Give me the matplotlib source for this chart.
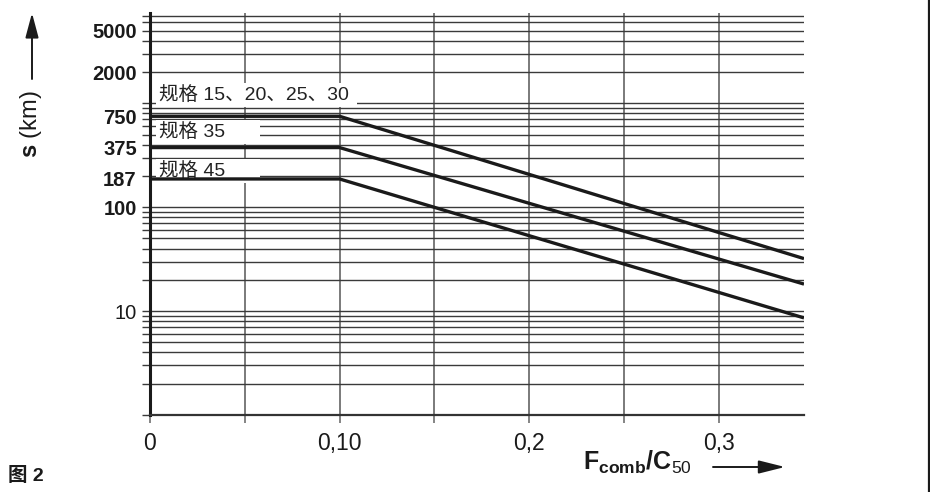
import matplotlib
matplotlib.use('Agg')
import matplotlib.pyplot as plt
from matplotlib.ticker import LogLocator, FixedLocator, NullFormatter
from matplotlib.lines import Line2D

plt.rcParams['font.family'] = ['Liberation Sans', 'Noto Sans CJK SC', 'DejaVu Sans']
plt.rcParams['mathtext.fontset'] = 'custom'
plt.rcParams['mathtext.rm'] = 'Liberation Sans'
plt.rcParams['mathtext.bf'] = 'Liberation Sans:bold'

### DATA ###
load_ratio = [0.0, 0.10, 0.345]
series_names = ['规格 15、20、25、30 ', '规格 35      ', '规格 45      ']
size_15_30 = [750, 750, 32]
size_35 = [375, 375, 18.2]
size_45 = [187, 187, 8.6]
label_y = [1200, 533, 224]

ytick_vals = [10, 100, 187, 375, 750, 2000, 5000]
ytick_text = ['10', '100', '187', '375', '750', '2000', '5000']
xtick_vals = [0, 0.10, 0.2, 0.3]
xtick_text = ['0', '0,10', '0,2', '0,3']
xminor_vals = [0.05, 0.15, 0.25]

### PLOT ###
W, H = 930, 492
fig = plt.figure(figsize=(W / 100, H / 100), dpi=100)
ax = fig.add_axes([150 / W, 1 - 415 / H, (804 - 150) / W, (415 - 13.3) / H])

ax.set_yscale('log')
ax.set_xlim(0, 0.345)
ax.set_ylim(1, 7350)

# grid
ax.yaxis.set_minor_locator(LogLocator(base=10, subs=range(1, 10)))
ax.yaxis.set_minor_formatter(NullFormatter())
ax.yaxis.remove_overlapping_locs = False
ax.set_yticks(ytick_vals)
ylabels = ax.set_yticklabels(ytick_text)
for t in ylabels:
    t.set_fontweight('normal' if t.get_text() == '10' else 'bold')
    t.set_fontsize(14.5)

ax.set_xticks(xtick_vals)
ax.set_xticklabels(xtick_text, fontsize=16.5)
ax.xaxis.set_minor_locator(FixedLocator(xminor_vals))
ax.xaxis.remove_overlapping_locs = False

ax.grid(False)
ax.yaxis.grid(True, which='minor', color='#3a3a3a', lw=1.0)
ax.xaxis.grid(True, which='both', color='#707070', lw=1.3)

ax.tick_params(axis='y', which='minor', length=6, width=1.0, color='#3a3a3a')
ax.tick_params(axis='y', which='major', length=0, pad=9.5, colors='#1a1a1a')
ax.tick_params(axis='x', which='both', length=6, width=1.2, color='#707070', pad=6, labelcolor='#1a1a1a')

for s in ['top', 'right']:
    ax.spines[s].set_visible(False)
ax.spines['left'].set_linewidth(2.2)
ax.spines['left'].set_color('#1a1a1a')
ax.spines['bottom'].set_linewidth(1.6)
ax.spines['bottom'].set_color('#333333')

# curves
for vals in [size_15_30, size_35, size_45]:
    ax.plot(load_ratio, vals, color='#1a1a1a', lw=2.4, solid_capstyle='butt', zorder=4)

for name, yv in zip(series_names, label_y):
    ax.text(0.0047, yv, name, ha='left', va='center', fontsize=14, color='#222222',
            bbox=dict(boxstyle='square,pad=0.15', fc='white', ec='none'), zorder=3)

# axis captions with arrows
fig.text(31 / W, 1 - 124 / H, r'$\mathbf{s}$ (km)', rotation=90, ha='center', va='center',
         fontsize=17, color='#1a1a1a')
ax.annotate('', xy=(32 / W, 1 - 13 / H), xytext=(32 / W, 1 - 79 / H),
            xycoords='figure fraction', textcoords='figure fraction',
            arrowprops=dict(arrowstyle='-|>,head_length=0.75,head_width=0.2', lw=1.4,
                            color='#1a1a1a', mutation_scale=20, shrinkA=0, shrinkB=0))

fig.text(583 / W, 1 - 470 / H, r'$\mathbf{F}_{\mathbf{comb}}\mathbf{/C}_{\mathrm{50}}$',
         ha='left', va='baseline', fontsize=18, color='#1a1a1a')
ax.annotate('', xy=(785 / W, 1 - 467 / H), xytext=(713 / W, 1 - 467 / H),
            xycoords='figure fraction', textcoords='figure fraction',
            arrowprops=dict(arrowstyle='-|>,head_length=0.8,head_width=0.2', lw=1.4,
                            color='#1a1a1a', mutation_scale=20, shrinkA=0, shrinkB=0))

fig.text(8 / W, 1 - 476 / H, '图 2', ha='left', va='center', fontsize=14,
         fontweight='bold', color='#1a1a1a')

# frame line on the right edge
fig.add_artist(Line2D([929 / W, 929 / W], [0, 1], transform=fig.transFigure,
                      color='#1a1a1a', lw=1.6))

fig.savefig('out.png', dpi=100)
